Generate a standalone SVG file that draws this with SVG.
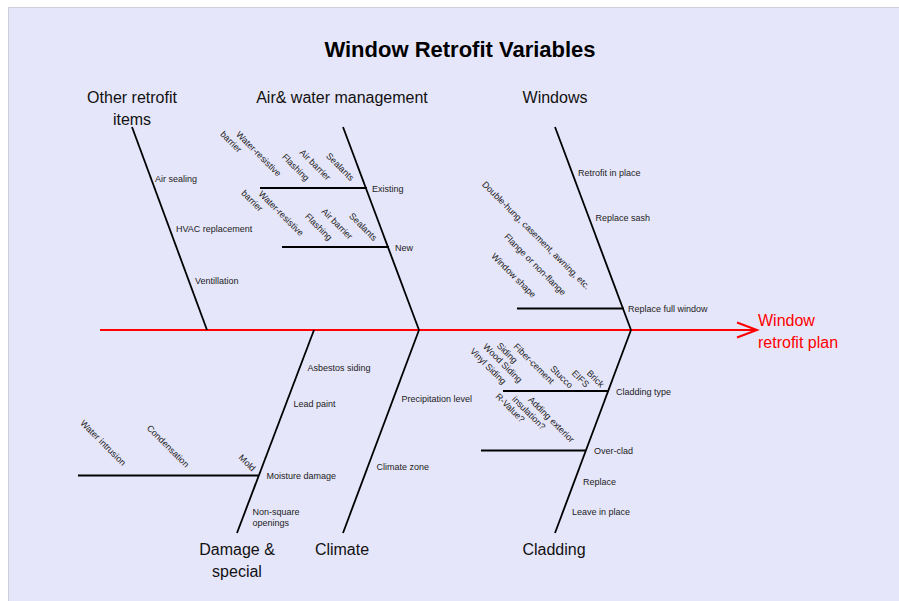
<svg xmlns="http://www.w3.org/2000/svg" width="899" height="601" viewBox="0 0 899 601">
<style>
.bg{fill:#e6e6fa;stroke:#cfcfdc;stroke-width:1}
.t{font-family:"Liberation Sans",Arial,sans-serif;fill:#222}
.title{font-size:22px;font-weight:bold;fill:#000;text-anchor:middle}
.cat{font-size:16px;text-anchor:middle;fill:#111}
.s{font-size:9px}
.r{font-size:9px;text-anchor:middle}
.eff{font-size:16px;fill:#ff0000}
.bone{stroke:#000;stroke-width:1.8;fill:none}
.spine{stroke:#ff0000;stroke-width:2;fill:none}
</style>
<rect class="bg" x="8.5" y="7.5" width="895" height="598"/>
<g id="title"><text class="t title" x="460" y="57">Window Retrofit Variables</text></g>

<g id="connectors">
  <line class="spine" x1="100" y1="330" x2="755" y2="330"/>
  <path class="spine" d="M737,322.5 L757,330 L737,337.5"/>
  <line class="bone" x1="132" y1="127" x2="207" y2="330"/>
  <line class="bone" x1="343" y1="127" x2="419" y2="330"/>
  <line class="bone" x1="555" y1="127" x2="631" y2="330"/>
  <line class="bone" x1="237" y1="533" x2="314" y2="330"/>
  <line class="bone" x1="343" y1="533" x2="419" y2="330"/>
  <line class="bone" x1="555" y1="533" x2="631" y2="330"/>
  <line class="bone" x1="260" y1="188" x2="367" y2="188"/>
  <line class="bone" x1="282" y1="247" x2="389" y2="247"/>
  <line class="bone" x1="517" y1="308.5" x2="624" y2="308.5"/>
  <line class="bone" x1="503" y1="391" x2="609" y2="391"/>
  <line class="bone" x1="481" y1="450.5" x2="586" y2="450.5"/>
  <line class="bone" x1="78" y1="475.5" x2="258" y2="475.5"/>
</g>

<g id="effect"><text class="t eff" x="758" y="326">Window</text><text class="t eff" x="758" y="348">retrofit plan</text></g>

<g id="cat-other"><text class="t cat" x="132" y="103">Other retrofit</text><text class="t cat" x="132" y="125">items</text></g>
<g id="cat-air"><text class="t cat" x="342" y="103">Air&amp; water management</text></g>
<g id="cat-windows"><text class="t cat" x="555" y="103">Windows</text></g>
<g id="cat-damage"><text class="t cat" x="237" y="555">Damage &amp;</text><text class="t cat" x="237" y="577">special</text></g>
<g id="cat-climate"><text class="t cat" x="342" y="555">Climate</text></g>
<g id="cat-cladding"><text class="t cat" x="554" y="555">Cladding</text></g>

<g id="cause-air-sealing"><text class="t s" x="155" y="182">Air sealing</text></g>
<g id="cause-hvac"><text class="t s" x="176" y="231.5">HVAC replacement</text></g>
<g id="cause-ventillation"><text class="t s" x="195" y="284">Ventillation</text></g>

<g id="cause-existing">
  <text class="t s" x="372" y="192">Existing</text>
  <text class="t r" transform="translate(338,169) rotate(45)">Sealants</text>
  <text class="t r" transform="translate(313,167) rotate(45)">Air barrier</text>
  <text class="t r" transform="translate(293.5,169.5) rotate(45)">Flashing</text>
  <text class="t r" transform="translate(256.5,156) rotate(45)">Water-resistive</text>
  <text class="t r" transform="translate(229,144) rotate(45)">barrier</text>
</g>
<g id="cause-new">
  <text class="t s" x="395" y="250.5">New</text>
  <text class="t r" transform="translate(361,229) rotate(45)">Sealants</text>
  <text class="t r" transform="translate(335,226) rotate(45)">Air barrier</text>
  <text class="t r" transform="translate(316.5,229) rotate(45)">Flashing</text>
  <text class="t r" transform="translate(279,215.5) rotate(45)">Water-resistive</text>
  <text class="t r" transform="translate(250,203) rotate(45)">barrier</text>
</g>

<g id="cause-retrofit-in-place"><text class="t s" x="578" y="176">Retrofit in place</text></g>
<g id="cause-replace-sash"><text class="t s" x="595.5" y="221">Replace sash</text></g>
<g id="cause-replace-full">
  <text class="t s" x="628" y="311.5">Replace full window</text>
  <text class="t r" transform="translate(534,237.5) rotate(45)">Double-hung, casement, awning, etc.</text>
  <text class="t r" transform="translate(533,266.7) rotate(45)">Flange or non-flange</text>
  <text class="t r" transform="translate(511.5,277.5) rotate(45)">Window shape</text>
</g>

<g id="cause-cladding-type">
  <text class="t s" x="616" y="395">Cladding type</text>
  <text class="t r" transform="translate(531.7,365.8) rotate(45)">Fiber-cement</text>
  <text class="t r" transform="translate(505,355) rotate(45)">Siding</text>
  <text class="t r" transform="translate(500.5,365.3) rotate(45)">Wood Siding</text>
  <text class="t r" transform="translate(486,368.3) rotate(45)">Vinyl Siding</text>
  <text class="t r" transform="translate(559.5,379) rotate(45)">Stucco</text>
  <text class="t r" transform="translate(578.3,380.8) rotate(45)">EIFS</text>
  <text class="t r" transform="translate(593.3,380.8) rotate(45)">Brick</text>
</g>
<g id="cause-over-clad">
  <text class="t s" x="594" y="454">Over-clad</text>
  <text class="t r" transform="translate(549.2,421.7) rotate(45)">Adding exterior</text>
  <text class="t r" transform="translate(526.7,415) rotate(45)">insulation?</text>
  <text class="t r" transform="translate(508,410) rotate(45)">R-Value?</text>
</g>
<g id="cause-replace"><text class="t s" x="583" y="485">Replace</text></g>
<g id="cause-leave"><text class="t s" x="572" y="515">Leave in place</text></g>

<g id="cause-asbestos"><text class="t s" x="307.5" y="371">Asbestos siding</text></g>
<g id="cause-lead"><text class="t s" x="293.5" y="406.5">Lead paint</text></g>
<g id="cause-moisture">
  <text class="t s" x="266.5" y="479">Moisture damage</text>
  <text class="t r" transform="translate(101,445) rotate(45)">Water intrusion</text>
  <text class="t r" transform="translate(165.8,448.3) rotate(45)">Condensation</text>
  <text class="t r" transform="translate(245,465) rotate(45)">Mold</text>
</g>
<g id="cause-nonsquare"><text class="t s" x="252.5" y="515">Non-square</text><text class="t s" x="252.5" y="526">openings</text></g>

<g id="cause-precip"><text class="t s" x="401.5" y="402">Precipitation level</text></g>
<g id="cause-climate-zone"><text class="t s" x="376.5" y="470">Climate zone</text></g>
</svg>
